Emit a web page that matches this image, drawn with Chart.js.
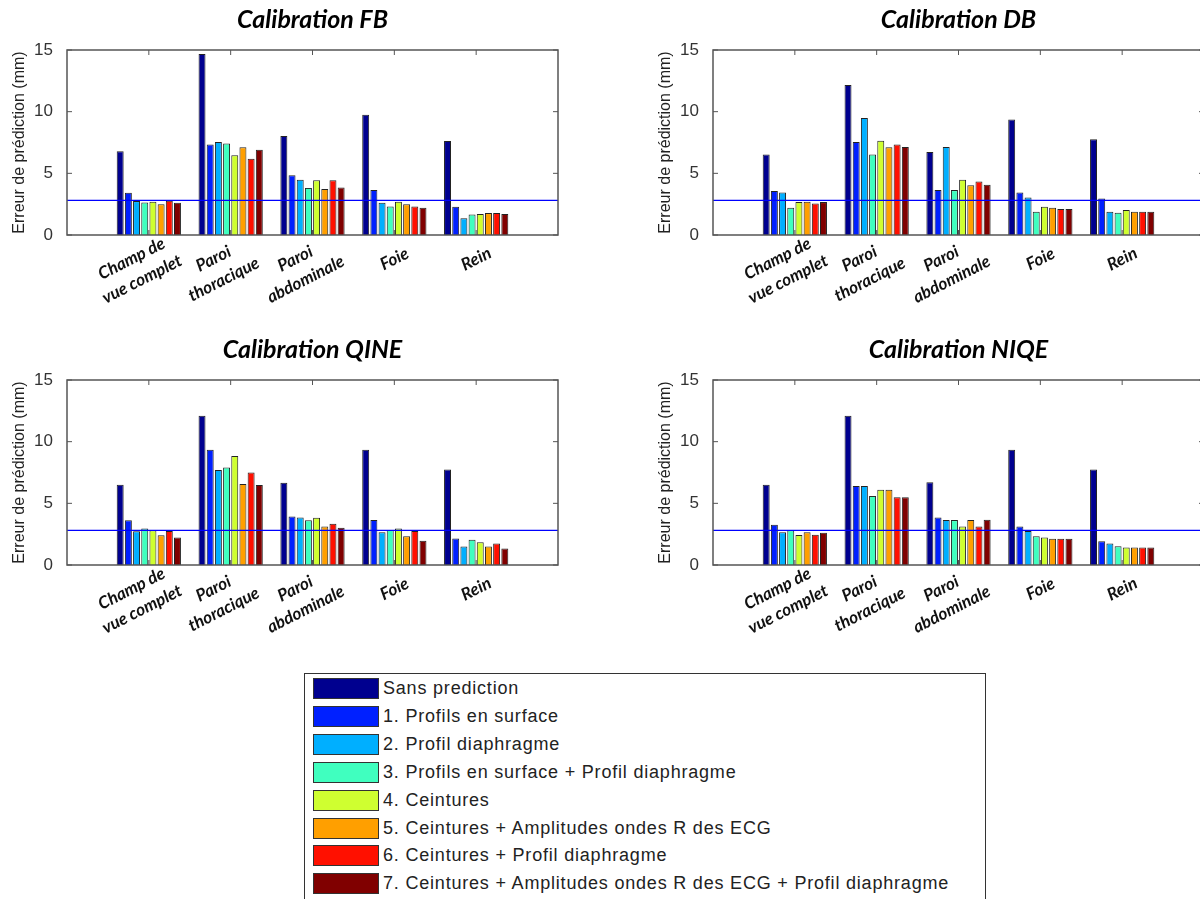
<!DOCTYPE html>
<html>
<head>
<meta charset="utf-8">
<script src="https://cdn.jsdelivr.net/npm/chart.js@4.4.1/dist/chart.umd.min.js"></script>
<style>
    html, body {
        margin: 0;
        padding: 0;
        width: 1200px;
        height: 899px;
        overflow: hidden;
        background: #fff;
    }
    canvas {
        position: absolute;
    }
    #legend {
        position: absolute;
        left: 304px;
        top: 673px;
        width: 680px;
        height: 240px;
        border: 1px solid #333;
        background: #fff;
        font-family: 'Liberation Sans', Arial, sans-serif;
        font-size: 18px;
        letter-spacing: 0.8px;
        color: #222;
    }
    .legend-row {
        position: absolute;
        left: 0;
        height: 21px;
        line-height: 21px;
        white-space: nowrap;
    }
    .legend-swatch {
        position: absolute;
        left: 8px;
        top: 0;
        width: 64px;
        height: 19px;
        border: 1px solid #333;
    }
    .legend-text {
        position: absolute;
        left: 78px;
        top: 0;
    }
</style>
</head>
<body>
<canvas id="c0"></canvas>
<canvas id="c1"></canvas>
<canvas id="c2"></canvas>
<canvas id="c3"></canvas>
<div id="legend"></div>

<script>
// categories (x axis), one entry per group of bars
const categories = [
    ['Champ de', 'vue complet'],
    ['Paroi', 'thoracique'],
    ['Paroi', 'abdominale'],
    ['Foie'],
    ['Rein']
];

const seriesNames = [
    'Sans prediction',
    '1. Profils en surface',
    '2. Profil diaphragme',
    '3. Profils en surface + Profil diaphragme',
    '4. Ceintures',
    '5. Ceintures + Amplitudes ondes R des ECG',
    '6. Ceintures + Profil diaphragme',
    '7. Ceintures + Amplitudes ondes R des ECG + Profil diaphragme'
];

const seriesColors = ['#00008F', '#0020FF', '#00AFFF', '#40FFBF', '#CFFF30', '#FF9F00', '#FF1000', '#800000'];

const yTicks = [0, 5, 10, 15];
const threshold = 2.8;

// one row per series, one column per category
const fbValues = [
    [6.79, 14.68, 8.03, 9.75, 7.62],
    [3.42, 7.33, 4.85, 3.64, 2.29],
    [2.75, 7.54, 4.47, 2.61, 1.35],
    [2.64, 7.41, 3.82, 2.32, 1.67],
    [2.69, 6.46, 4.44, 2.69, 1.70],
    [2.50, 7.11, 3.72, 2.50, 1.78],
    [2.77, 6.19, 4.44, 2.32, 1.78],
    [2.61, 6.92, 3.85, 2.21, 1.70]
];

const dbValues = [
    [6.52, 12.17, 6.73, 9.37, 7.76],
    [3.56, 7.54, 3.64, 3.45, 2.96],
    [3.45, 9.48, 7.14, 3.04, 1.89],
    [2.21, 6.52, 3.64, 1.89, 1.80],
    [2.67, 7.65, 4.47, 2.29, 2.02],
    [2.69, 7.11, 4.04, 2.21, 1.89],
    [2.56, 7.33, 4.34, 2.10, 1.89],
    [2.67, 7.14, 4.07, 2.10, 1.89]
];

const qineValues = [
    [6.51, 12.11, 6.67, 9.35, 7.74],
    [3.62, 9.35, 3.94, 3.64, 2.14],
    [2.73, 7.71, 3.86, 2.65, 1.50],
    [2.95, 7.90, 3.62, 2.84, 2.04],
    [2.81, 8.84, 3.83, 2.95, 1.85],
    [2.41, 6.56, 3.13, 2.33, 1.50],
    [2.76, 7.50, 3.35, 2.76, 1.74],
    [2.22, 6.48, 3.03, 1.96, 1.34]
];

const niqeValues = [
    [6.51, 12.11, 6.70, 9.35, 7.74],
    [3.27, 6.40, 3.86, 3.13, 1.93],
    [2.65, 6.40, 3.64, 2.76, 1.74],
    [2.81, 5.60, 3.64, 2.33, 1.53],
    [2.44, 6.11, 3.13, 2.22, 1.42],
    [2.65, 6.11, 3.64, 2.12, 1.42],
    [2.46, 5.49, 3.13, 2.12, 1.42],
    [2.62, 5.49, 3.67, 2.12, 1.42]
];

const panels = [
    {title: 'Calibration FB', values: fbValues, left: 0, top: 0},
    {title: 'Calibration DB', values: dbValues, left: 646, top: 0},
    {title: 'Calibration QINE', values: qineValues, left: 0, top: 330},
    {title: 'Calibration NIQE', values: niqeValues, left: 646, top: 330}
];

// matlab style box with inward ticks, title and slanted group labels
const framePlugin = {
    id: 'frame',
    afterDraw(chart) {
        const {ctx, chartArea: a, scales: {x, y}} = chart;
        ctx.save();
        ctx.strokeStyle = '#555';
        ctx.lineWidth = 1.5;
        ctx.strokeRect(a.left, a.top, a.right - a.left, a.bottom - a.top);

        ctx.beginPath();
        categories.forEach((c, i) => {
            const px = x.getPixelForValue(i + 1);
            ctx.moveTo(px, a.bottom);
            ctx.lineTo(px, a.bottom - 5);
            ctx.moveTo(px, a.top);
            ctx.lineTo(px, a.top + 5);
        });
        yTicks.forEach(v => {
            const py = y.getPixelForValue(v);
            ctx.moveTo(a.left, py);
            ctx.lineTo(a.left + 5, py);
            ctx.moveTo(a.right, py);
            ctx.lineTo(a.right - 5, py);
        });
        ctx.lineWidth = 1;
        ctx.stroke();

        ctx.fillStyle = '#000';
        ctx.textAlign = 'center';
        ctx.textBaseline = 'middle';
        ctx.font = 'italic bold 25px Lato';
        ctx.fillText(chart.options.panelTitle, (a.left + a.right) / 2, a.top - 30);

        ctx.fillStyle = '#111';
        ctx.font = 'italic bold 17px Lato';
        categories.forEach((lines, i) => {
            const n = lines.length;
            const cx = x.getPixelForValue(i + 1) - 12 * (n - 1);
            const cy = a.bottom + 24 + 10 * (n - 1);
            ctx.save();
            ctx.translate(cx, cy);
            ctx.rotate(-27 * Math.PI / 180);
            lines.forEach((line, k) => {
                ctx.fillText(line, 0, (k - (n - 1) / 2) * 23);
            });
            ctx.restore();
        });
        ctx.restore();
    }
};

function buildPanel(panel, index) {
    const canvas = document.getElementById('c' + index);
    canvas.width = 600;
    canvas.height = 331;
    canvas.style.left = panel.left + 'px';
    canvas.style.top = panel.top + 'px';

    const barSets = panel.values.map((row, s) => ({
        type: 'bar',
        label: seriesNames[s],
        data: row.map((v, i) => ({x: i + 1, y: v})),
        backgroundColor: seriesColors[s],
        borderColor: '#222',
        borderWidth: 1,
        categoryPercentage: 0.8,
        barPercentage: 0.85,
        order: 1
    }));

    const refLine = {
        type: 'line',
        label: 'seuil',
        data: [{x: 0, y: threshold}, {x: categories.length + 1, y: threshold}],
        borderColor: '#0000FF',
        borderWidth: 1.3,
        pointRadius: 0,
        order: -1
    };

    new Chart(canvas, {
        type: 'bar',
        data: {datasets: [refLine, ...barSets]},
        options: {
            responsive: false,
            animation: false,
            panelTitle: panel.title,
            layout: {padding: {left: 0, right: 42, top: 50, bottom: 0}},
            plugins: {
                legend: {display: false},
                tooltip: {enabled: false},
                title: {display: false}
            },
            scales: {
                x: {
                    type: 'linear',
                    offset: false,
                    min: 0,
                    max: categories.length + 1,
                    grid: {display: false},
                    border: {display: false},
                    ticks: {display: false},
                    afterFit: scale => { scale.height = 96; }
                },
                y: {
                    min: 0,
                    max: 15,
                    grid: {display: false},
                    border: {display: false},
                    ticks: {
                        stepSize: 5,
                        padding: 6,
                        color: '#333',
                        font: {family: 'Liberation Sans', size: 17}
                    },
                    title: {
                        display: true,
                        text: 'Erreur de prédiction (mm)',
                        color: '#222',
                        font: {family: 'Liberation Sans', size: 16},
                        padding: {top: 10, bottom: 0}
                    },
                    afterFit: scale => { scale.width = 67; }
                }
            }
        },
        plugins: [framePlugin]
    });
}

function buildLegend() {
    const legend = document.getElementById('legend');
    seriesNames.forEach((name, s) => {
        const row = document.createElement('div');
        row.className = 'legend-row';
        row.style.top = (4 + s * 27.9) + 'px';
        const swatch = document.createElement('div');
        swatch.className = 'legend-swatch';
        swatch.style.background = seriesColors[s];
        const text = document.createElement('div');
        text.className = 'legend-text';
        text.textContent = name;
        row.appendChild(swatch);
        row.appendChild(text);
        legend.appendChild(row);
    });
}

panels.forEach(buildPanel);
buildLegend();
</script>
</body>
</html>
